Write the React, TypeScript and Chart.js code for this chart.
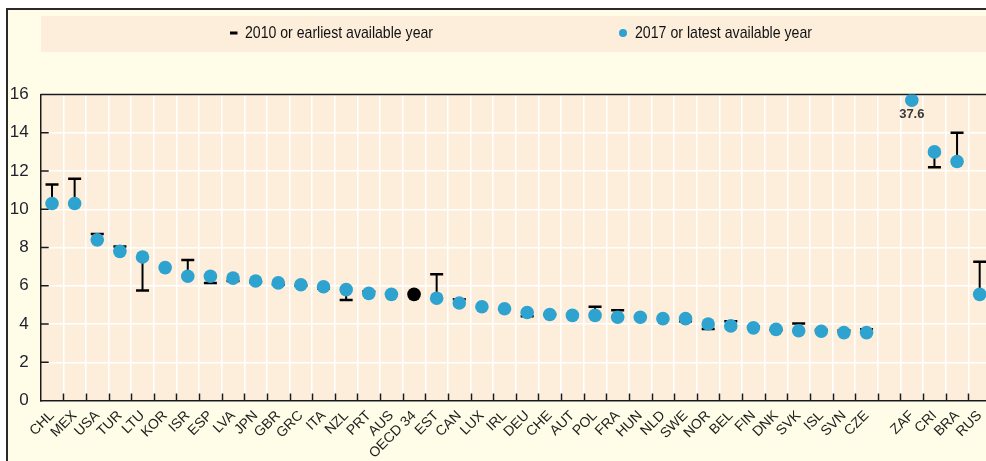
import React, { useEffect, useRef } from 'react';
import { Chart, registerables } from 'chart.js';

Chart.register(...registerables);

// ---- data ----
const categories = [
  'CHL', 'MEX', 'USA', 'TUR', 'LTU', 'KOR', 'ISR', 'ESP', 'LVA', 'JPN', 'GBR', 'GRC', 'ITA', 'NZL',
  'PRT', 'AUS', 'OECD 34', 'EST', 'CAN', 'LUX', 'IRL', 'DEU', 'CHE', 'AUT', 'POL', 'FRA', 'HUN',
  'NLD', 'SWE', 'NOR', 'BEL', 'FIN', 'DNK', 'SVK', 'ISL', 'SVN', 'CZE', '', 'ZAF', 'CRI', 'BRA', 'RUS',
];
const values2010: (number | null)[] = [
  11.3, 11.6, 8.7, 8.05, 5.75, null, 7.35, 6.15, 6.25, 6.2, 6.05, 6.0, 5.85, 5.25,
  5.7, null, null, 6.6, 5.3, null, null, 4.4, 4.5, null, 4.9, 4.72, null,
  null, 4.15, 3.74, 4.15, 3.86, 3.68, 4.03, 3.68, 3.66, 3.72, null, null, 12.2, 14.0, 7.25,
];
const values2017: (number | null)[] = [
  10.3, 10.3, 8.4, 7.8, 7.5, 6.95, 6.5, 6.5, 6.4, 6.25, 6.15, 6.05, 5.95, 5.8,
  5.6, 5.55, 5.55, 5.35, 5.1, 4.9, 4.8, 4.6, 4.5, 4.45, 4.45, 4.35, 4.35,
  4.28, 4.28, 4.0, 3.9, 3.8, 3.72, 3.65, 3.62, 3.55, 3.55, null, 37.6, 13.0, 12.5, 5.55,
];
const highlightCategory = 'OECD 34';
const seriesLabels = ['2010 or earliest available year', '2017 or latest available year'];
const yMin = 0;
const yMax = 16;
const yStep = 2;
const displayCap = 15.7; // values above the axis are shown at the top edge with their value

// ---- styles ----
const W = 1000;
const H = 461;
const CREAM = '#FFFDE8';
const PEACH = '#FDEEDB';
const BLUE = '#2EA3CF';
const SANS = "'Liberation Sans', Arial, sans-serif";

const plotted2017 = values2017.map((v) => (v == null ? null : Math.min(v, displayCap)));

function narrowText(ctx: any, text: string, x: number, y: number, targetWidth: number) {
  const w = ctx.measureText(text).width;
  ctx.save();
  ctx.translate(x, y);
  ctx.scale(targetWidth / w, 1);
  ctx.fillText(text, 0, 0);
  ctx.restore();
}

const decor = {
  id: 'decor',
  beforeDraw(chart: any) {
    const { ctx, chartArea: a } = chart;
    ctx.save();
    ctx.fillStyle = '#ffffff';
    ctx.fillRect(0, 0, W, H);
    ctx.fillStyle = CREAM;
    ctx.fillRect(7, 9, W, H);
    ctx.strokeStyle = '#2a2a2a';
    ctx.lineWidth = 2;
    ctx.beginPath();
    ctx.moveTo(7, H);
    ctx.lineTo(7, 9);
    ctx.lineTo(W, 9);
    ctx.stroke();
    // legend band
    ctx.fillStyle = PEACH;
    ctx.fillRect(41, 16, W, 36);
    // plot background
    ctx.fillRect(a.left, a.top, a.right - a.left, a.bottom - a.top);
    // legend items
    const ds = chart.data.datasets;
    const cy = 33;
    ctx.font = `17px ${SANS}`;
    ctx.textBaseline = 'middle';
    ctx.textAlign = 'left';
    ctx.strokeStyle = '#000';
    ctx.lineWidth = 3;
    ctx.beginPath();
    ctx.moveTo(230, cy);
    ctx.lineTo(237.5, cy);
    ctx.stroke();
    ctx.fillStyle = '#111';
    narrowText(ctx, ds[0].label, 245, cy, 188);
    ctx.fillStyle = BLUE;
    ctx.beginPath();
    ctx.arc(623, cy, 4, 0, Math.PI * 2);
    ctx.fill();
    ctx.fillStyle = '#111';
    narrowText(ctx, ds[1].label, 635, cy, 177);
    ctx.restore();
  },
  beforeDatasetsDraw(chart: any) {
    const { ctx, chartArea: a, scales } = chart;
    const xs = scales.x;
    const ys = scales.y;
    ctx.save();
    ctx.strokeStyle = '#1a1a1a';
    ctx.lineWidth = 1.5;
    ctx.beginPath();
    ctx.moveTo(a.left, a.top);
    ctx.lineTo(a.right, a.top);
    ctx.stroke();
    ctx.beginPath();
    for (let i = 1; i < categories.length; i++) {
      const x = Math.round(xs.getPixelForValue(i - 0.5)) + 0.5;
      ctx.moveTo(x, a.bottom);
      ctx.lineTo(x, a.bottom - 7);
    }
    for (let v = yMin + yStep; v < yMax; v += yStep) {
      const y = ys.getPixelForValue(v);
      ctx.moveTo(a.left, y);
      ctx.lineTo(a.left + 8, y);
    }
    ctx.stroke();
    ctx.strokeStyle = '#000';
    ctx.lineWidth = 2;
    ctx.beginPath();
    for (let i = 0; i < categories.length; i++) {
      const v0 = values2010[i];
      const v1 = plotted2017[i];
      if (v0 == null || v1 == null) continue;
      const x = xs.getPixelForValue(i);
      ctx.moveTo(x, ys.getPixelForValue(v0));
      ctx.lineTo(x, ys.getPixelForValue(v1));
    }
    ctx.stroke();
    ctx.restore();
  },
  afterDatasetsDraw(chart: any) {
    const { ctx, scales } = chart;
    ctx.save();
    ctx.font = `bold 13px ${SANS}`;
    ctx.fillStyle = '#3a3a3a';
    ctx.textAlign = 'center';
    ctx.textBaseline = 'middle';
    values2017.forEach((v, i) => {
      if (v != null && v > yMax) {
        const x = scales.x.getPixelForValue(i);
        const y = scales.y.getPixelForValue(plotted2017[i] as number);
        ctx.fillText(String(v), x, y + 14);
      }
    });
    ctx.restore();
  },
};

export default function App() {
  const ref = useRef<HTMLCanvasElement | null>(null);
  useEffect(() => {
    if (!ref.current) return;
    const chart = new Chart(ref.current, {
      type: 'line',
      data: {
        labels: categories,
        datasets: [
          {
            label: seriesLabels[0],
            data: values2010,
            showLine: false,
            order: 1,
            pointStyle: 'line',
            pointRadius: 6.5,
            pointHoverRadius: 6.5,
            pointBorderWidth: 2.5,
            pointBorderColor: '#000',
            borderColor: '#000',
          },
          {
            label: seriesLabels[1],
            data: plotted2017,
            showLine: false,
            order: 0,
            pointStyle: 'circle',
            pointRadius: 6.8,
            pointHoverRadius: 6.8,
            pointBorderWidth: 0,
            pointBackgroundColor: categories.map((c) => (c === highlightCategory ? '#000000' : BLUE)),
            borderColor: BLUE,
          },
        ],
      },
      options: {
        responsive: false,
        animation: false,
        events: [],
        layout: { padding: { top: 94.5, left: 0, right: W - 990.5 - 6, bottom: 0 } },
        plugins: {
          legend: { display: false },
          tooltip: { enabled: false },
        },
        scales: {
          x: {
            type: 'category',
            offset: true,
            afterFit: (s: any) => {
              s.height = H - 400.5;
            },
            grid: { offset: true, color: '#ffffff', lineWidth: 1.5, drawTicks: false },
            border: { display: true, color: '#1a1a1a', width: 1.5 },
            ticks: {
              autoSkip: false,
              minRotation: 45,
              maxRotation: 45,
              padding: 7,
              color: '#1e1e1e',
              font: { family: SANS, size: 14 },
            },
          },
          y: {
            min: yMin,
            max: yMax,
            afterFit: (s: any) => {
              s.width = 40.7;
            },
            grid: { color: '#ffffff', lineWidth: 1.5, drawTicks: false },
            border: { display: true, color: '#1a1a1a', width: 1.5 },
            ticks: {
              stepSize: yStep,
              padding: 12,
              color: '#1f1f2e',
              font: { family: SANS, size: 17 },
            },
          },
        },
      },
      plugins: [decor],
    });
    return () => chart.destroy();
  }, []);
  return (
    <div style={{ position: 'fixed', left: 0, top: 0, width: 986, height: 461, overflow: 'hidden', background: '#fff' }}>
      <canvas ref={ref} width={W} height={H} style={{ display: 'block', width: W, height: H }} />
    </div>
  );
}
